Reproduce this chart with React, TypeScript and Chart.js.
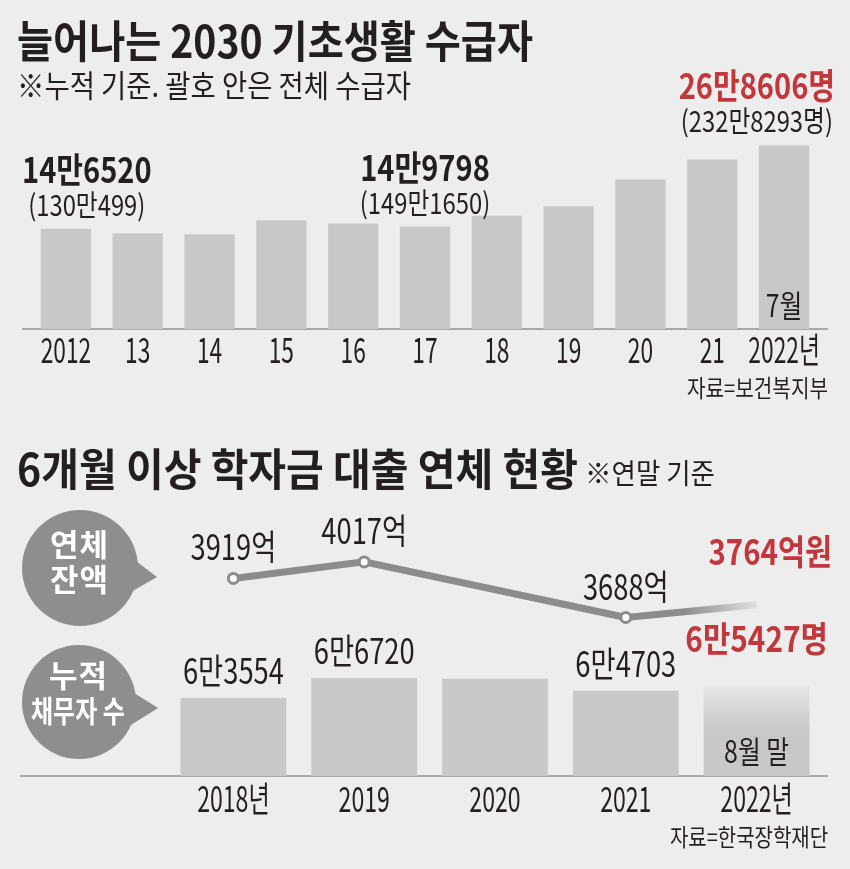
import React, { useEffect, useRef } from 'react';
import { Chart, registerables } from 'chart.js';

Chart.register(...registerables);

// ---------- data ----------
// 2030 기초생활 수급자 (명)
const recipientYears = ['2012', '13', '14', '15', '16', '17', '18', '19', '20', '21', '2022년'];
const recipients2030 = [146520, 140100, 138600, 159100, 154300, 149798, 165600, 179600, 218800, 248100, 268606];
const recipientsTotal = [1300499, null, null, null, null, 1491650, null, null, null, null, 2328293];
const recipientNotes = ['', '', '', '', '', '', '', '', '', '', '7월'];

// 학자금 대출 연체
const loanYears = ['2018년', '2019', '2020', '2021', '2022년'];
const overdueAmount = [3919, 4017, null, 3688, 3764]; // 억원
const debtors = [63554, 66720, 66600, 64703, 65427]; // 명
const debtorLabelShown = [true, true, false, true, true];
const debtorNotes = ['', '', '', '', '8월 말'];

// ---------- style ----------
const BG = '#ededed';
const BAR = '#c8c8c8';
const INK = '#231f20';
const RED = '#c1373b';
const LINE = '#8c8c8c';
const BUBBLE = '#8e8e8e';
const AXIS = '#a9a9a9';
const FONT = '"Noto Sans CJK KR", "Noto Sans", sans-serif';

const fmtMan = (v: number) => `${Math.floor(v / 10000)}만${v % 10000}`;

type TOpt = { size: number; weight?: number; color?: string; scale?: number; align?: 'left' | 'center' | 'right' };

function measureCond(ctx: CanvasRenderingContext2D, text: string, o: TOpt) {
  ctx.save();
  ctx.font = `${o.weight ?? 400} ${o.size}px ${FONT}`;
  const w = ctx.measureText(text).width * (o.scale ?? 1);
  ctx.restore();
  return w;
}

function drawCond(ctx: CanvasRenderingContext2D, text: string, x: number, baseline: number, o: TOpt) {
  const s = o.scale ?? 1;
  ctx.save();
  ctx.font = `${o.weight ?? 400} ${o.size}px ${FONT}`;
  const w = ctx.measureText(text).width * s;
  const align = o.align ?? 'left';
  const left = align === 'right' ? x - w : align === 'center' ? x - w / 2 : x;
  ctx.translate(left, baseline);
  ctx.scale(s, 1);
  ctx.textAlign = 'left';
  ctx.textBaseline = 'alphabetic';
  ctx.fillStyle = o.color ?? INK;
  ctx.fillText(text, 0, 0);
  ctx.restore();
  return w;
}

function drawBaseline(chart: any, x0: number, x1: number) {
  const { ctx } = chart;
  const y = chart.scales.y.bottom;
  ctx.save();
  ctx.strokeStyle = AXIS;
  ctx.lineWidth = 2;
  ctx.beginPath();
  ctx.moveTo(x0, y);
  ctx.lineTo(x1, y);
  ctx.stroke();
  ctx.restore();
}

// ---------- plugins ----------
const recipientsPlugin = {
  id: 'recipientsDecor',
  beforeDatasetsDraw(chart: any) {
    drawBaseline(chart, 22, 828);
  },
  afterDatasetsDraw(chart: any) {
    const { ctx } = chart;
    const xs = chart.scales.x;
    const ys = chart.scales.y;
    recipientYears.forEach((lab, i) => {
      drawCond(ctx, lab, xs.getPixelForValue(i), ys.bottom + 34, { size: 35, scale: 0.65, align: 'center' });
    });
    const meta = chart.getDatasetMeta(0);
    const last = recipients2030.length - 1;
    meta.data.forEach((bar: any, i: number) => {
      const tot = recipientsTotal[i];
      if (tot != null) {
        const isLast = i === last;
        const main = fmtMan(recipients2030[i]) + (isLast ? '명' : '');
        const sub = '(' + fmtMan(tot) + (isLast ? '명' : '') + ')';
        const mo: TOpt = { size: 35, weight: 700, scale: 0.83, color: isLast ? RED : INK, align: 'center' };
        const so: TOpt = { size: 29, weight: 400, scale: 0.82, color: INK, align: 'center' };
        const gw = Math.max(measureCond(ctx, main, mo), measureCond(ctx, sub, so));
        const cx = Math.min(Math.max(bar.x, 22 + gw / 2), 835 - gw / 2);
        drawCond(ctx, main, cx, bar.y - 46, mo);
        drawCond(ctx, sub, cx, bar.y - 13, so);
      }
      if (recipientNotes[i]) {
        drawCond(ctx, recipientNotes[i], bar.x, ys.bottom - 12, { size: 31, scale: 0.8, align: 'center' });
      }
    });
  },
};

const overduePlugin = {
  id: 'overdueDecor',
  afterDatasetsDraw(chart: any) {
    const { ctx } = chart;
    const meta = chart.getDatasetMeta(0);
    const last = overdueAmount.length - 1;
    meta.data.forEach((pt: any, i: number) => {
      const v = overdueAmount[i];
      if (v == null) return;
      if (i === last) {
        drawCond(ctx, `${v}억원`, 832, pt.y - 40, { size: 35, weight: 700, scale: 0.84, color: RED, align: 'right' });
      } else {
        drawCond(ctx, `${v}억`, pt.x, pt.y - 18, { size: 35, scale: 0.78, align: 'center' });
      }
    });
  },
};

const debtorPlugin = {
  id: 'debtorDecor',
  beforeDatasetsDraw(chart: any) {
    drawBaseline(chart, 20, 828);
  },
  afterDatasetsDraw(chart: any) {
    const { ctx } = chart;
    const xs = chart.scales.x;
    const ys = chart.scales.y;
    loanYears.forEach((lab, i) => {
      drawCond(ctx, lab, xs.getPixelForValue(i), ys.bottom + 36, { size: 35, scale: 0.66, align: 'center' });
    });
    const meta = chart.getDatasetMeta(0);
    const last = debtors.length - 1;
    meta.data.forEach((bar: any, i: number) => {
      if (debtorLabelShown[i]) {
        if (i === last) {
          const o: TOpt = { size: 35, weight: 700, scale: 0.85, color: RED, align: 'center' };
          const text = fmtMan(debtors[i]) + '명';
          const w = measureCond(ctx, text, o);
          const cx = Math.min(bar.x, 832 - w / 2);
          drawCond(ctx, text, cx, bar.y - 34, o);
        } else {
          drawCond(ctx, fmtMan(debtors[i]), bar.x, bar.y - 14, { size: 35, scale: 0.78, align: 'center' });
        }
      }
      if (debtorNotes[i]) {
        drawCond(ctx, debtorNotes[i], bar.x, ys.bottom - 13, { size: 31, scale: 0.8, align: 'center' });
      }
    });
  },
};

// ---------- HTML text ----------
let mctx: CanvasRenderingContext2D | null = null;
function metrics(text: string, size: number, weight: number) {
  if (!mctx) mctx = document.createElement('canvas').getContext('2d');
  mctx!.font = `${weight} ${size}px ${FONT}`;
  const m = mctx!.measureText(text);
  return { w: m.width, asc: m.fontBoundingBoxAscent || size * 1.16, desc: m.fontBoundingBoxDescent || size * 0.288 };
}

function Txt(p: {
  text: string; x: number; baseline: number; size: number; weight?: number; color?: string;
  width?: number; scale?: number; align?: 'left' | 'center' | 'right'; spacing?: number;
}) {
  const weight = p.weight ?? 400;
  const spacing = p.spacing ?? 0;
  const m = metrics(p.text, p.size, weight);
  const natural = m.w + spacing * (p.text.length - 1);
  const s = p.width ? p.width / natural : p.scale ?? 1;
  const vis = natural * s;
  const align = p.align ?? 'left';
  const left = align === 'right' ? p.x - vis : align === 'center' ? p.x - vis / 2 : p.x;
  const top = p.baseline - ((p.size - (m.asc + m.desc)) / 2 + m.asc);
  return (
    <div
      style={{
        position: 'absolute', left, top, fontFamily: FONT, fontSize: p.size, fontWeight: weight,
        lineHeight: `${p.size}px`, color: p.color ?? INK, whiteSpace: 'nowrap',
        transform: `scaleX(${s})`, transformOrigin: '0 0', letterSpacing: spacing,
      }}
    >
      {p.text}
    </div>
  );
}

// ---------- component ----------
export default function App() {
  const c1 = useRef<HTMLCanvasElement>(null);
  const c2 = useRef<HTMLCanvasElement>(null);
  const c3 = useRef<HTMLCanvasElement>(null);

  useEffect(() => {
    const common = {
      responsive: false,
      animation: false as const,
      events: [] as any[],
      plugins: { legend: { display: false }, tooltip: { enabled: false } },
    };

    const chart1 = new Chart(c1.current!, {
      type: 'bar',
      data: {
        labels: recipientYears,
        datasets: [{ data: recipients2030, backgroundColor: BAR, borderWidth: 0, barPercentage: 0.7, categoryPercentage: 1 }],
      },
      options: {
        ...common,
        layout: { padding: { left: 30, right: 30, top: 100, bottom: 540 } },
        scales: { x: { display: false }, y: { display: false, min: 0, max: 335000 } },
      },
      plugins: [recipientsPlugin],
    } as any);

    const lastIdx = overdueAmount.length - 1;
    const chart2 = new Chart(c2.current!, {
      type: 'line',
      data: {
        labels: loanYears,
        datasets: [{
          data: overdueAmount,
          borderColor: LINE,
          borderWidth: 7,
          tension: 0,
          spanGaps: true,
          clip: false,
          pointRadius: (c: any) => (c.dataIndex === lastIdx ? 0 : 5),
          pointBackgroundColor: '#ffffff',
          pointBorderColor: LINE,
          pointBorderWidth: 3,
          segment: {
            borderColor: (sc: any) => {
              if (sc.p1DataIndex !== lastIdx) return undefined;
              const g = sc.chart.ctx.createLinearGradient(sc.p0.x, 0, sc.p1.x, 0);
              g.addColorStop(0, LINE);
              g.addColorStop(0.45, LINE);
              g.addColorStop(1, 'rgba(140,140,140,0.12)');
              return g;
            },
          },
        }],
      },
      options: {
        ...common,
        layout: { padding: { left: 168, right: 28, top: 500, bottom: 229 } },
        scales: { x: { display: false, offset: true }, y: { display: false, min: 3555, max: 4383 } },
      },
      plugins: [overduePlugin],
    } as any);

    const lastBar = debtors.length - 1;
    const chart3 = new Chart(c3.current!, {
      type: 'bar',
      data: {
        labels: loanYears,
        datasets: [{
          data: debtors,
          borderWidth: 0,
          barPercentage: 0.808,
          categoryPercentage: 1,
          backgroundColor: (c: any) => {
            if (c.dataIndex !== lastBar) return BAR;
            const ch = c.chart;
            const ys = ch.scales && ch.scales.y;
            if (!ys || !ch.chartArea) return BAR;
            const top = ys.getPixelForValue(debtors[lastBar]);
            const g = ch.ctx.createLinearGradient(0, ys.bottom, 0, top);
            g.addColorStop(0, BAR);
            g.addColorStop(0.5, BAR);
            g.addColorStop(1, 'rgba(200,200,200,0.2)');
            return g;
          },
        }],
      },
      options: {
        ...common,
        layout: { padding: { left: 168, right: 28, top: 640, bottom: 93 } },
        scales: { x: { display: false }, y: { display: false, min: 51300, max: 72700 } },
      },
      plugins: [debtorPlugin],
    } as any);

    return () => {
      chart1.destroy();
      chart2.destroy();
      chart3.destroy();
    };
  }, []);

  const cv: React.CSSProperties = { position: 'absolute', left: 0, top: 0 };

  return (
    <div style={{ position: 'absolute', left: 0, top: 0, width: 850, height: 869, background: BG, overflow: 'hidden' }}>
      <svg width={850} height={869} style={{ position: 'absolute', left: 0, top: 0 }}>
        <circle cx={80} cy={568} r={58} fill={BUBBLE} />
        <polygon points="124,552 124,596 157,577" fill={BUBBLE} />
        <circle cx={79} cy={702} r={57} fill={BUBBLE} />
        <polygon points="123,686 123,730 158,708" fill={BUBBLE} />
      </svg>
      <canvas ref={c1} width={850} height={869} style={cv} />
      <canvas ref={c2} width={850} height={869} style={cv} />
      <canvas ref={c3} width={850} height={869} style={cv} />

      <Txt text="늘어나는 2030 기초생활 수급자" x={17} baseline={58} size={44} weight={700} width={516} />
      <Txt text="※누적 기준. 괄호 안은 전체 수급자" x={17} baseline={97} size={31} width={394} />
      <Txt text="자료=보건복지부" x={828} baseline={397} size={24} width={141} align="right" />

      <Txt text="6개월 이상 학자금 대출 연체 현황" x={17} baseline={486} size={44} weight={700} width={561} />
      <Txt text="※연말 기준" x={585} baseline={484} size={28} width={130} />
      <Txt text="자료=한국장학재단" x={828} baseline={846} size={24} width={158} align="right" />

      <Txt text="연체" x={79} baseline={556} size={31} weight={700} color="#ffffff" scale={1} spacing={1} align="center" />
      <Txt text="잔액" x={79} baseline={591} size={31} weight={700} color="#ffffff" scale={1} spacing={1} align="center" />
      <Txt text="누적" x={78} baseline={687} size={31} weight={700} color="#ffffff" scale={1} spacing={1} align="center" />
      <Txt text="채무자 수" x={78} baseline={722} size={30} weight={700} color="#ffffff" scale={0.8} align="center" />
    </div>
  );
}
